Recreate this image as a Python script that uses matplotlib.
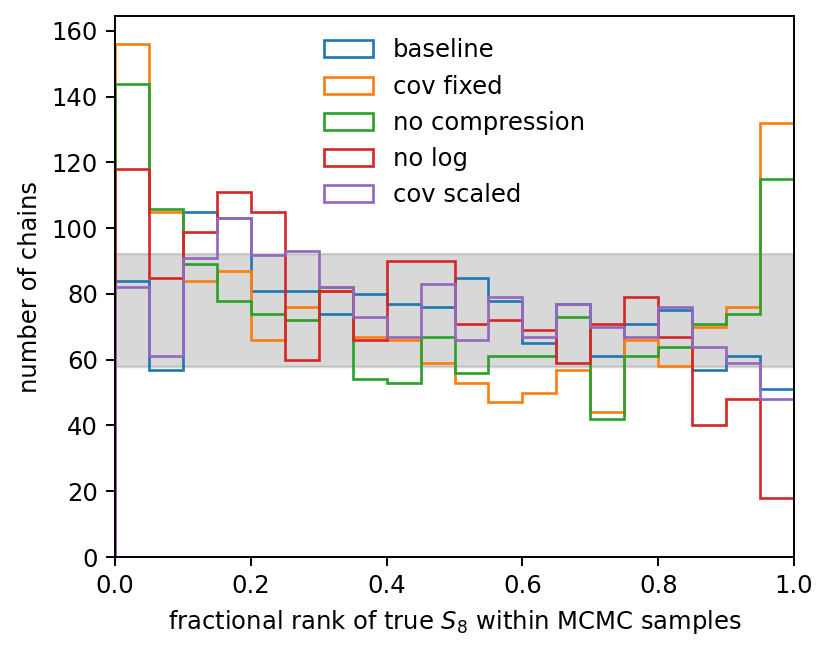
import matplotlib
matplotlib.use("Agg")
import matplotlib.pyplot as plt
import numpy as np

bin_edges = np.linspace(0.0, 1.0, 21)

labels = ["baseline", "cov fixed", "no compression", "no log", "cov scaled"]

baseline = [84, 57, 105, 103, 81, 81, 74, 80, 77, 76, 85, 78, 65, 77, 61, 71, 75, 57, 61, 51]
cov_fixed = [156, 105, 84, 87, 66, 76, 81, 67, 66, 59, 53, 47, 50, 57, 44, 66, 58, 70, 76, 132]
no_compression = [144, 106, 89, 78, 74, 72, 82, 54, 53, 67, 56, 61, 61, 73, 42, 61, 64, 71, 74, 115]
no_log = [118, 85, 99, 111, 105, 60, 81, 66, 90, 90, 71, 72, 69, 59, 71, 79, 67, 40, 48, 18]
cov_scaled = [82, 61, 91, 103, 92, 93, 82, 73, 67, 83, 66, 79, 67, 77, 70, 67, 76, 64, 59, 48]

# expected count per bin is 75, band is its 2-sigma poisson range
band_lo, band_hi = 57.7, 92.3

DPI = 175
fig = plt.figure(figsize=(831 / DPI, 652 / DPI), dpi=DPI)
ax = fig.add_axes([0.1384, 0.1457, 0.8171, 0.829])

ax.axhspan(band_lo, band_hi, color="grey", alpha=0.3, zorder=0)

centers = 0.5 * (bin_edges[:-1] + bin_edges[1:])
for counts, label in zip([baseline, cov_fixed, no_compression, no_log, cov_scaled], labels):
    ax.hist(centers, bins=bin_edges, weights=counts, histtype="step", linewidth=1.1, label=label)

ax.set_xlim(0, 1)
ax.set_ylim(0, 164.4)
ax.set_yticks(np.arange(0, 161, 20))
ax.set_xlabel("fractional rank of true $S_8$ within MCMC samples")
ax.set_ylabel("number of chains")
ax.legend(loc="upper center", frameon=False)

fig.savefig("out.png", dpi=DPI)
plt.close(fig)
